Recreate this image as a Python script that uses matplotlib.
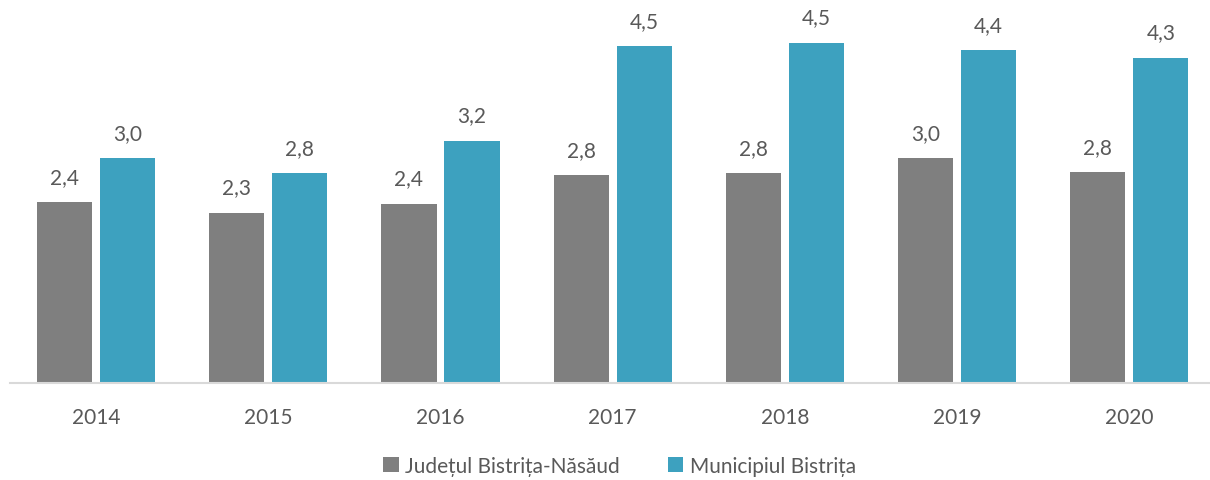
import numpy as np
import matplotlib.pyplot as plt

plt.rcParams['font.family'] = ['Lato', 'DejaVu Sans']

# ── data ──────────────────────────────────────────────────────────────────────
years = ["2014", "2015", "2016", "2017", "2018", "2019", "2020"]
judet = [2.41, 2.27, 2.39, 2.77, 2.80, 3.00, 2.81]
municipiu = [3.00, 2.80, 3.23, 4.49, 4.54, 4.44, 4.34]
series_names = ["Județul Bistrița-Năsăud", "Municipiul Bistrița"]

GRAY = "#7F7F7F"
TEAL = "#3DA1BF"
TXT = "#595959"

fig = plt.figure(figsize=(12.1, 4.81), dpi=100)
ax = fig.add_axes([10 / 1210, 1 - 384 / 481, 1200 / 1210, 384 / 481])

x = np.arange(len(years))
w = 0.32
off = 0.183
b1 = ax.bar(x - off, judet, w, color=GRAY, label=series_names[0])
b2 = ax.bar(x + off, municipiu, w, color=TEAL, label=series_names[1])

for bars, vals in ((b1, judet), (b2, municipiu)):
    for r, v in zip(bars, vals):
        ax.annotate(f"{v:.1f}".replace(".", ","),
                    (r.get_x() + r.get_width() / 2, v),
                    xytext=(0, 11), textcoords="offset points",
                    ha="center", va="bottom", fontsize=15, color=TXT)

ax.set_xlim(-0.5, -0.5 + 1200 / 172.2)
ax.set_ylim(0, 384 / 75)
ax.set_xticks(x)
ax.set_xticklabels(years, fontsize=15, color=TXT)
ax.set_yticks([])
for s in ["top", "left", "right"]:
    ax.spines[s].set_visible(False)
ax.spines["bottom"].set_color("#D9D9D9")
ax.spines["bottom"].set_linewidth(1.5)
ax.tick_params(axis="x", length=0, pad=17)

leg = fig.legend(loc="center", bbox_to_anchor=(0.512, 1 - 467 / 481), ncol=2,
                 frameon=False, fontsize=15, handlelength=0.75, handleheight=0.75,
                 handletextpad=0.3, columnspacing=2.3)
for t in leg.get_texts():
    t.set_color(TXT)

fig.savefig("out.png", dpi=100)
